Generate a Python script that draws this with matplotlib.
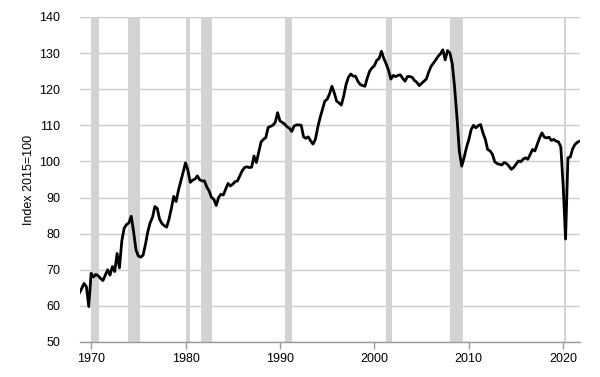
import numpy as np
import matplotlib
matplotlib.use("Agg")
import matplotlib.pyplot as plt

plt.rcParams['font.family'] = ['Liberation Sans', 'DejaVu Sans']

# quarterly index values, 1968Q4 .. 2021Q4
first_quarter = 1968.75
index_values = [
    63.5,
    64.8, 66.2, 65.3, 59.8,       # 1969
    69.0, 68.0, 68.7, 68.3,       # 1970
    67.6, 67.0, 68.5, 70.0,       # 1971
    68.5, 70.9, 69.5, 74.5,       # 1972
    70.5, 78.0, 81.5, 82.5,       # 1973
    83.0, 84.8, 80.5, 75.5,       # 1974
    73.8, 73.5, 74.0, 77.0,       # 1975
    80.5, 83.0, 84.5, 87.5,       # 1976
    87.0, 84.0, 82.8, 82.2,       # 1977
    81.8, 84.0, 87.0, 90.3,       # 1978
    88.9, 92.0, 94.5, 97.0,       # 1979
    99.6, 97.5, 94.2, 94.8,       # 1980
    95.1, 96.0, 94.9, 94.6,       # 1981
    94.6, 92.9, 91.8, 90.0,       # 1982
    89.5, 87.8, 90.0, 90.9,       # 1983
    90.7, 92.3, 93.9, 93.2,       # 1984
    93.7, 94.4, 94.6, 96.0,       # 1985
    97.4, 98.3, 98.5, 98.3,       # 1986
    98.4, 101.5, 99.7, 102.5,     # 1987
    105.4, 106.1, 106.6, 109.4,   # 1988
    109.7, 110.0, 110.8, 113.5,   # 1989
    111.2, 110.8, 110.3, 109.6,   # 1990
    109.2, 108.3, 109.8, 110.1,   # 1991
    110.1, 110.0, 106.8, 106.4,   # 1992
    106.8, 105.7, 104.8, 106.1,   # 1993
    109.4, 112.1, 114.4, 116.7,   # 1994
    117.2, 118.7, 120.8, 119.0,   # 1995
    116.7, 116.2, 115.6, 118.1,   # 1996
    121.3, 123.3, 124.2, 123.6,   # 1997
    123.6, 122.2, 121.3, 121.0,   # 1998
    120.8, 123.1, 125.0, 125.9,   # 1999
    126.5, 128.0, 128.5, 130.5,   # 2000
    128.5, 127.0, 125.2, 122.8,   # 2001
    123.8, 123.5, 123.8, 124.0,   # 2002
    123.0, 122.2, 123.5, 123.5,   # 2003
    123.3, 122.4, 121.9, 121.0,   # 2004
    121.6, 122.2, 122.8, 124.7,   # 2005
    126.3, 127.2, 128.1, 129.1,   # 2006
    129.8, 130.9, 128.1, 130.7,   # 2007
    130.0, 127.0, 120.5, 112.1,   # 2008
    102.8, 98.7, 101.0, 103.8,    # 2009
    106.0, 108.8, 110.0, 109.3,   # 2010
    109.9, 110.2, 107.9, 106.1,   # 2011
    103.3, 102.9, 102.0, 99.9,    # 2012
    99.4, 99.2, 99.0, 99.7,       # 2013
    99.4, 98.7, 97.8, 98.3,       # 2014
    99.2, 100.1, 99.9, 100.6,     # 2015
    101.0, 100.6, 101.9, 103.3,   # 2016
    102.9, 104.7, 106.5, 107.9,   # 2017
    106.7, 106.5, 106.7, 105.8,   # 2018
    106.1, 105.6, 105.4, 104.0,   # 2019
    93.0, 78.5, 101.0, 101.2,     # 2020
    103.5, 104.7, 105.3, 105.6,   # 2021
]

# recession periods (decimal years)
recession_start = [1970.0, 1973.9, 1980.0, 1981.63, 1990.54, 2001.25, 2007.97, 2020.09]
recession_end = [1970.85, 1975.2, 1980.5, 1982.83, 1991.24, 2001.89, 2009.39, 2020.34]

year_ticks = [1970, 1980, 1990, 2000, 2010, 2020]
value_ticks = [50, 60, 70, 80, 90, 100, 110, 120, 130, 140]

x = first_quarter + 0.25 * np.arange(len(index_values))

fig = plt.figure(figsize=(6.0, 3.77), dpi=100)
ax = fig.add_axes([0.133, 0.093, 0.834, 0.862])

for s, e in zip(recession_start, recession_end):
    ax.axvspan(s, e, color='#d3d3d3', lw=0, zorder=1)

ax.plot(x, index_values, color='black', lw=2, zorder=3)

ax.set_xlim(1968.8, 2021.8)
ax.set_ylim(50, 140)
ax.set_xticks(year_ticks)
ax.set_yticks(value_ticks)
ax.yaxis.grid(True, color='#cccccc', lw=1, zorder=0)
ax.set_axisbelow(True)

for side in ['top', 'right', 'left']:
    ax.spines[side].set_visible(False)
ax.spines['bottom'].set_color('#999999')
ax.spines['bottom'].set_linewidth(1)

ax.tick_params(axis='y', length=0, pad=14, labelsize=9, labelcolor='black')
ax.tick_params(axis='x', length=5, width=1, color='#999999', pad=3, labelsize=9,
               labelcolor='black')
ax.set_ylabel('Index 2015=100', fontsize=9, color='black')
ax.yaxis.set_label_coords(-0.09, 0.5)

fig.savefig('out.png', dpi=100)
